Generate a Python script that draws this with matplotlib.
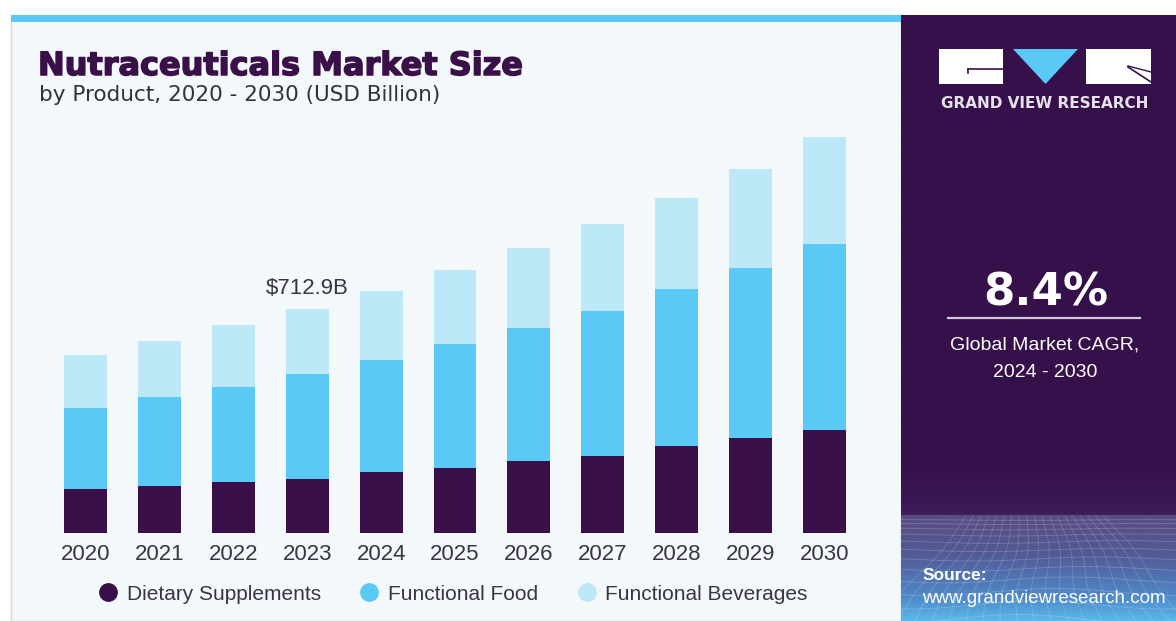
import matplotlib
matplotlib.use("Agg")
import matplotlib.pyplot as plt
import numpy as np
from matplotlib.patches import Rectangle, Polygon
from matplotlib.lines import Line2D
from matplotlib.colors import to_rgb
import matplotlib.patheffects as pe

plt.rcParams["font.family"] = ["Liberation Sans", "DejaVu Sans"]

# market size by product, USD billion
years = ["2020", "2021", "2022", "2023", "2024", "2025", "2026", "2027", "2028", "2029", "2030"]
dietary_supplements = [139, 148, 160, 170, 192, 205, 227, 245, 275, 302, 326]
functional_food = [260, 285, 304, 335, 359, 396, 425, 463, 502, 544, 596]
functional_beverages = [167, 178, 198, 207.9, 220, 237, 257, 278, 290, 315, 342]
segments = ["Dietary Supplements", "Functional Food", "Functional Beverages"]
labelled_year = "2023"
cagr = "8.4%"
cagr_period = "2024 - 2030"

DARK = "#380f48"
MID = "#5bc9f5"
LIGHT = "#bde8f8"
PANEL = "#f3f8fb"
TEXT = "#3b3444"

W, H = 1176, 621
fig = plt.figure(figsize=(W / 100, H / 100), dpi=100)
fig.patch.set_facecolor("white")

# background layer in pixel coordinates
bg = fig.add_axes([0, 0, 1, 1])
bg.set_xlim(0, W)
bg.set_ylim(H, 0)
bg.axis("off")

bg.add_patch(Rectangle((11, 15), 890, 606, facecolor=PANEL, edgecolor="#d3d8dc", lw=1))
bg.add_patch(Rectangle((11, 15), 890, 7, facecolor=MID, edgecolor="none"))

# right panel with gradient
stops_y = [15, 470, 515, 516, 555, 600, 621]
stops_c = ["#36104a", "#36104a", "#3e1d59", "#5a4c82", "#525a96", "#4f8ccc", "#5ab8e8"]
ys = np.linspace(15, 621, 400)
rgb = np.array([to_rgb(c) for c in stops_c])
grad = np.stack([np.interp(ys, stops_y, rgb[:, k]) for k in range(3)], axis=1)
bg.imshow(grad[:, None, :], extent=(901, W, 621, 15), aspect="auto", zorder=1)

# wavy perspective grid at the bottom of the right panel
for y0 in [520, 524, 529, 535, 542, 550, 559, 569, 580, 592, 605, 619]:
    xx = np.linspace(901, W, 120)
    yy = y0 + 2.5 * np.sin((xx - 901) / 40.0 + y0 / 30.0) * (y0 - 510) / 60
    bg.plot(xx, yy, color="white", alpha=0.18, lw=0.7, zorder=2)
for xb in np.arange(880, 1200, 17):
    top_x = 1040 + (xb - 1040) * 0.45
    yy = np.linspace(516, 621, 40)
    xx = top_x + (xb - top_x) * (yy - 516) / 105 + 3 * np.sin(yy / 14.0)
    bg.plot(xx, yy, color="white", alpha=0.16, lw=0.7, zorder=2)
bg.set_xlim(0, W)
bg.set_ylim(H, 0)

# logo
bg.add_patch(Rectangle((939, 49), 64, 35, facecolor="white", edgecolor="none", zorder=3))
bg.plot([968, 1003], [69, 69], color=DARK, lw=1.2, zorder=4)
bg.plot([968, 968], [69, 73], color=DARK, lw=1.2, zorder=4)
bg.add_patch(Polygon([(1013, 49), (1078, 49), (1045.5, 84)], closed=True,
                     facecolor=MID, edgecolor="none", zorder=3))
bg.add_patch(Rectangle((1086, 49), 65, 35, facecolor="white", edgecolor="none", zorder=3))
bg.plot([1128, 1151], [67, 82], color=DARK, lw=1.2, zorder=4)
bg.plot([1128, 1151], [66, 72], color=DARK, lw=1.0, zorder=4)
bg.text(1045, 108, "GRAND VIEW RESEARCH", color="#e6e2ea", fontsize=11,
        fontweight="bold", family="DejaVu Sans", ha="center", va="baseline", zorder=4)

# CAGR block
bg.text(1046, 306, cagr, color="white", fontsize=32.5, fontweight="bold",
        family="DejaVu Sans", ha="center", va="baseline", zorder=4)
bg.plot([948, 1140], [318, 318], color="#cfc8d6", lw=1.6, zorder=4)
bg.text(1045, 350, "Global Market CAGR,", color="white", fontsize=14,
        ha="center", va="baseline", zorder=4)
bg.text(1045, 377, cagr_period, color="white", fontsize=14,
        ha="center", va="baseline", zorder=4)

bg.text(923, 580, "Source:", color="white", fontsize=12.5, fontweight="bold",
        ha="left", va="baseline", zorder=4)
bg.text(922, 603, "www.grandviewresearch.com", color="white", fontsize=13.5,
        ha="left", va="baseline", zorder=4)

# titles
bg.text(38, 75, "Nutraceuticals Market Size", color="#3a1048", fontsize=23,
        fontweight="bold", family="DejaVu Sans", ha="left", va="baseline", zorder=4,
        path_effects=[pe.withStroke(linewidth=1.1, foreground="#3a1048")])
bg.text(39, 101, "by Product, 2020 - 2030 (USD Billion)", color="#333333",
        fontsize=15.5, family="DejaVu Sans", ha="left", va="baseline", zorder=4)

# chart axes placed over the panel
px_left, px_right, px_base, px_top = 40, 870, 532.5, 130
ax = fig.add_axes([px_left / W, 1 - px_base / H, (px_right - px_left) / W,
                   (px_base - px_top) / H])
ax.patch.set_alpha(0)
x = np.arange(len(years))
ax.set_xlim((px_left - 85.8) / 73.85, (px_right - 85.8) / 73.85)
ax.set_ylim(0, (px_base - px_top) * 3.194)

ds = np.array(dietary_supplements)
ff = np.array(functional_food)
fb = np.array(functional_beverages)
w = 0.58
ax.bar(x, ds, w, color=DARK, label=segments[0])
ax.bar(x, ff, w, bottom=ds, color=MID, label=segments[1])
ax.bar(x, fb, w, bottom=ds + ff, color=LIGHT, label=segments[2])

i = years.index(labelled_year)
total = ds[i] + ff[i] + fb[i]
ax.annotate(f"\\${total:.1f}B", (x[i], total), xytext=(0, 11),
            textcoords="offset points", ha="center", va="baseline",
            fontsize=16, color=TEXT)

ax.set_xticks(x)
ax.set_xticklabels(years, fontsize=16, color=TEXT)
ax.tick_params(axis="x", length=0, pad=8)
ax.set_yticks([])
for s in ax.spines.values():
    s.set_visible(False)

handles = [Line2D([], [], marker="o", ls="", markersize=12.5, color=c)
           for c in [DARK, MID, LIGHT]]
ax.legend(handles, segments, loc="center", ncol=3, frameon=False, fontsize=15,
          bbox_to_anchor=(454 / W, 1 - 594 / H), bbox_transform=fig.transFigure,
          handlelength=0.8, handletextpad=0.51, columnspacing=1.9,
          labelcolor=TEXT)

fig.savefig("out.png", dpi=100)
